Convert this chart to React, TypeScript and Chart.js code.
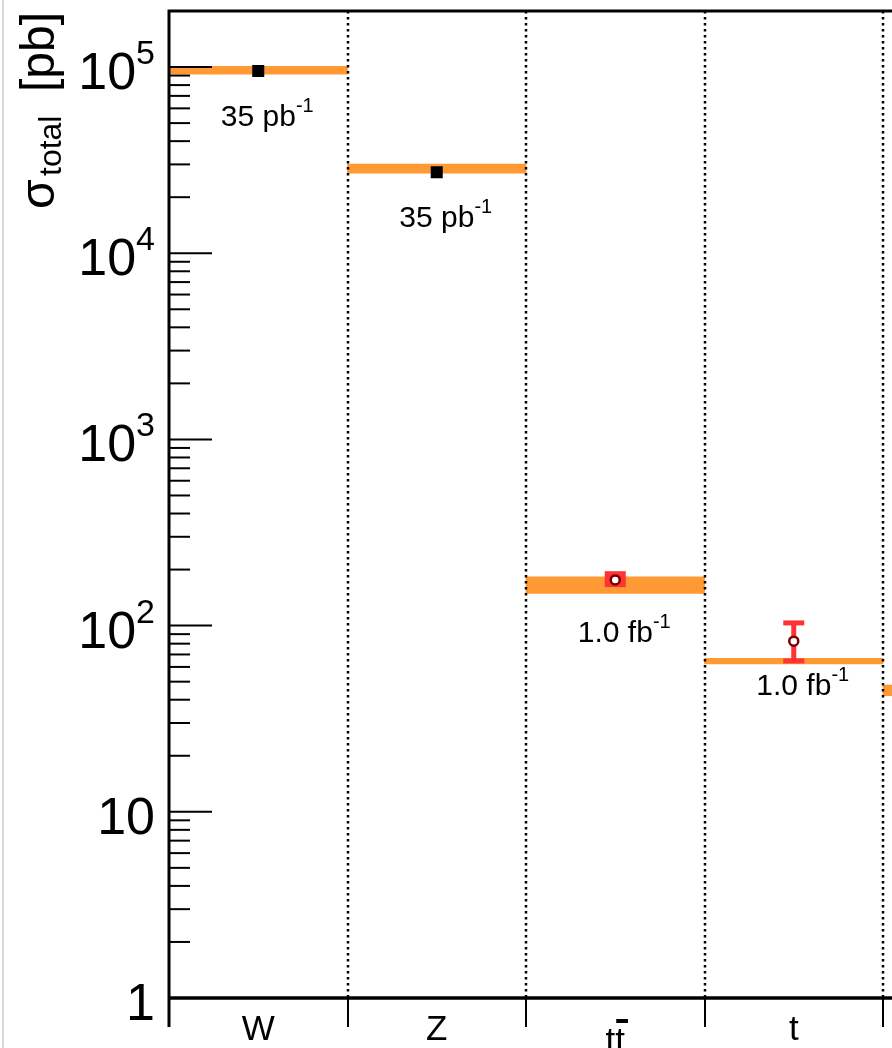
import { useEffect, useRef } from 'react';
import { Chart, registerables } from 'chart.js';

Chart.register(...registerables);

// ---- data ----
const categories = ['W', 'Z', 'tt\u0304', 't', 'WW'];
const theoryLow = [91500, 26900, 149, 62.3, 42.0];
const theoryHigh = [101000, 30100, 183, 66.8, 47.9];
const measuredBoson = [95200, 27200, null, null, null];
const measuredTop = [null, null, 176, 82.5, null];
const measErrLow = [null, null, 166, 64.6, null];
const measErrHigh = [null, null, 190, 103.4, null];
const lumiText = ['35 pb', '35 pb', '1.0 fb', '1.0 fb', null];
const lumiSup = ['-1', '-1', '-1', '-1', null];
const lumiLabelAt = [48000, 13800, 82, 42.2, null];
const yTickValues = [1, 10, 100, 1000, 10000, 100000];
const yTickBase = ['1', '10', '10', '10', '10', '10'];
const yTickExp = ['', '', '2', '3', '4', '5'];
const yMin = 1;
const yMax = 200000;

const ORANGE = '#ff9933';
const RED = '#ff3333';
const DARKRED = '#7a0000';
const FONT = '"Liberation Sans", Arial, Helvetica, sans-serif';

function drawSup(
  ctx: CanvasRenderingContext2D,
  base: string,
  sup: string,
  x: number,
  y: number,
  baseSize: number,
  supSize: number,
  raise: number,
  align: 'left' | 'center' | 'right'
) {
  ctx.font = `${baseSize}px ${FONT}`;
  const w1 = ctx.measureText(base).width;
  ctx.font = `${supSize}px ${FONT}`;
  const w2 = sup ? ctx.measureText(sup).width : 0;
  const total = w1 + w2;
  const sx = align === 'right' ? x - total : align === 'center' ? x - total / 2 : x;
  ctx.textAlign = 'left';
  ctx.textBaseline = 'alphabetic';
  ctx.font = `${baseSize}px ${FONT}`;
  ctx.fillText(base, sx, y);
  if (sup) {
    ctx.font = `${supSize}px ${FONT}`;
    ctx.fillText(sup, sx + w1, y - raise);
  }
}

const decor = {
  id: 'decor',
  afterDatasetDraw(chart: any, args: any) {
    if (args.index !== 0) return;
    const ctx: CanvasRenderingContext2D = chart.ctx;
    const xs = chart.scales.x;
    const ys = chart.scales.y;
    ctx.save();
    ctx.fillStyle = RED;
    categories.forEach((_, i) => {
      const lo = measErrLow[i];
      const hi = measErrHigh[i];
      if (lo == null || hi == null) return;
      const px = xs.getPixelForValue(i);
      const yl = ys.getPixelForValue(lo);
      const yh = ys.getPixelForValue(hi);
      if (yl - yh < 14) {
        // caps merge into a solid block when the error is small
        ctx.fillRect(px - 10.5, yh - 2.5, 21, yl - yh + 5);
        return;
      }
      ctx.fillRect(px - 2.5, yh, 5, yl - yh);
      ctx.fillRect(px - 10.5, yh - 2.5, 21, 5);
      ctx.fillRect(px - 10.5, yl - 2.5, 21, 5);
    });
    ctx.restore();
  },
  afterDraw(chart: any) {
    const ctx: CanvasRenderingContext2D = chart.ctx;
    const xs = chart.scales.x;
    const ys = chart.scales.y;
    const { left, right, top, bottom } = chart.chartArea;
    ctx.save();
    ctx.fillStyle = '#000';
    ctx.strokeStyle = '#000';

    // dotted category separators
    ctx.lineWidth = 2.5;
    ctx.setLineDash([2.5, 3.5]);
    for (let i = 1; i < categories.length; i++) {
      const bx = Math.round(xs.getPixelForValue(i - 0.5));
      ctx.beginPath();
      ctx.moveTo(bx, top);
      ctx.lineTo(bx, bottom);
      ctx.stroke();
    }
    ctx.setLineDash([]);

    // x ticks (outside, downwards)
    ctx.lineWidth = 2;
    for (let i = 0; i <= categories.length; i++) {
      const bx = Math.round(xs.getPixelForValue(i - 0.5));
      ctx.beginPath();
      ctx.moveTo(bx, bottom);
      ctx.lineTo(bx, bottom + 29);
      ctx.stroke();
    }

    // y ticks (inside)
    ctx.lineWidth = 2;
    for (let k = 0; k < yTickValues.length; k++) {
      for (let m = 1; m <= 9; m++) {
        const v = yTickValues[k] * m;
        if (v < yMin || v > yMax) continue;
        const py = ys.getPixelForValue(v);
        const len = m === 1 ? 43 : 21;
        ctx.beginPath();
        ctx.moveTo(left, py);
        ctx.lineTo(left + len, py);
        ctx.stroke();
      }
    }

    // frame
    ctx.lineWidth = 3;
    ctx.beginPath();
    ctx.moveTo(left, bottom + 29);
    ctx.lineTo(left, top);
    ctx.lineTo(right + 40, top);
    ctx.stroke();
    ctx.lineWidth = 3.5;
    ctx.beginPath();
    ctx.moveTo(left, bottom);
    ctx.lineTo(right + 40, bottom);
    ctx.stroke();

    // y tick labels
    yTickValues.forEach((v, k) => {
      const py = ys.getPixelForValue(v);
      drawSup(ctx, yTickBase[k], yTickExp[k], 155, py + 22, 52, 34, 25, 'right');
    });

    // luminosity labels
    categories.forEach((_, i) => {
      const t = lumiText[i];
      const at = lumiLabelAt[i];
      if (!t || at == null) return;
      const px = xs.getPixelForValue(i) + 9;
      const py = ys.getPixelForValue(at);
      drawSup(ctx, t, lumiSup[i] || '', px, py, 30, 20, 14, 'center');
    });

    // x category labels
    ctx.textAlign = 'left';
    ctx.textBaseline = 'alphabetic';
    ctx.font = `35px ${FONT}`;
    categories.forEach((lab, i) => {
      const px = xs.getPixelForValue(i);
      if (lab.includes('\u0304')) {
        const plain = lab.replace('\u0304', '');
        const w = ctx.measureText(plain).width;
        const wLast = ctx.measureText(plain.slice(-1)).width;
        const sx = px - w / 2;
        ctx.fillText(plain, sx, 1052);
        ctx.fillRect(sx + w - wLast + 1, 1019, wLast + 2, 4);
      } else {
        const w = ctx.measureText(lab).width;
        ctx.fillText(lab, px - w / 2, 1040);
      }
    });

    // y axis title (rotated)
    ctx.save();
    ctx.translate(54, 0);
    ctx.rotate(-Math.PI / 2);
    ctx.textAlign = 'left';
    ctx.textBaseline = 'alphabetic';
    ctx.font = `48px ${FONT}`;
    ctx.fillText('\u03c3', -209, 0);
    ctx.font = `32px ${FONT}`;
    ctx.fillText('total', -176, 7);
    ctx.font = `48px ${FONT}`;
    ctx.fillText('[pb]', -92, 0);
    ctx.restore();

    ctx.restore();
  },
};

export default function App() {
  const ref = useRef<HTMLCanvasElement>(null);

  useEffect(() => {
    const canvas = ref.current;
    if (!canvas) return;
    const chart = new Chart(canvas, {
      type: 'bar',
      data: {
        labels: categories,
        datasets: [
          {
            type: 'bar',
            data: categories.map((_, i) => [theoryLow[i], theoryHigh[i]]) as any,
            backgroundColor: ORANGE,
            borderWidth: 0,
            barPercentage: 1,
            categoryPercentage: 1,
            order: 2,
          },
          {
            type: 'line',
            data: measuredBoson as any,
            showLine: false,
            pointStyle: 'rect',
            pointRadius: 8.5,
            pointBackgroundColor: '#000',
            pointBorderColor: '#000',
            pointBorderWidth: 0,
            order: 1,
          },
          {
            type: 'line',
            data: measuredTop as any,
            showLine: false,
            pointStyle: 'circle',
            pointRadius: 4.5,
            pointBackgroundColor: '#fff',
            pointBorderColor: DARKRED,
            pointBorderWidth: 2.5,
            order: 0,
          },
        ],
      } as any,
      options: {
        animation: false,
        responsive: false,
        devicePixelRatio: 1,
        layout: { padding: { top: 11, right: 38.5, left: 0, bottom: 0 } },
        plugins: { legend: { display: false }, tooltip: { enabled: false } },
        scales: {
          x: {
            type: 'category',
            offset: true,
            grid: { display: false },
            border: { display: false },
            ticks: { display: false },
            afterFit: (s: any) => {
              s.height = 50;
            },
          },
          y: {
            type: 'logarithmic',
            min: yMin,
            max: yMax,
            grid: { display: false },
            border: { display: false },
            ticks: { display: false },
            afterFit: (s: any) => {
              s.width = 169;
            },
          },
        },
      } as any,
      plugins: [decor],
    });
    return () => chart.destroy();
  }, []);

  return (
    <div
      style={{
        position: 'absolute',
        left: 0,
        top: 0,
        width: 892,
        height: 1048,
        overflow: 'hidden',
        background: '#fff',
      }}
    >
      <canvas ref={ref} width={1100} height={1048} style={{ display: 'block', width: 1100, height: 1048 }} />
      <div style={{ position: 'absolute', left: 2, top: 0, width: 2, height: 1048, background: '#d8d8d8' }} />
    </div>
  );
}
